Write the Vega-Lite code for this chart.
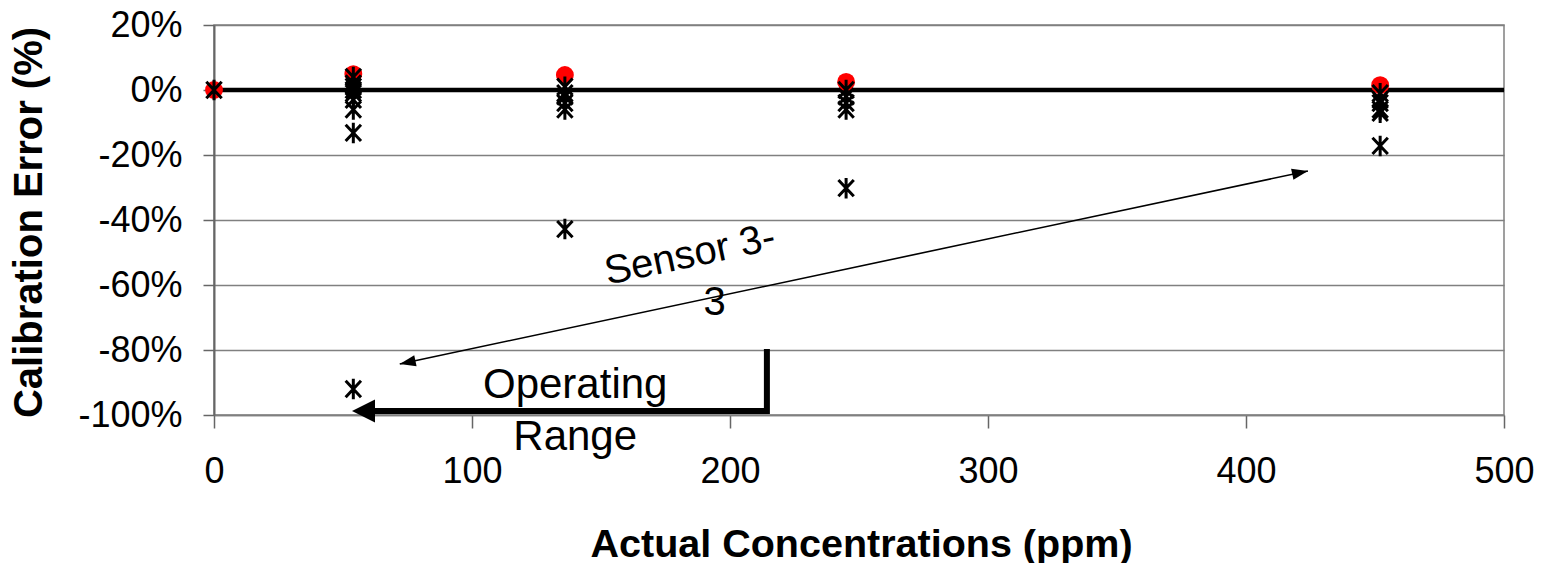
{
  "$schema": "https://vega.github.io/schema/vega-lite/v6.json",
  "width": 1290,
  "height": 390,
  "autosize": {"type": "none"},
  "padding": {"left": 214, "top": 25, "right": 48, "bottom": 148},
  "background": "white",
  "config": {
    "font": "Liberation Sans",
    "view": {"stroke": "#808080", "strokeWidth": 1.5}
  },
  "datasets": {
    "zero": [{"y": 0}],
    "red": [
      {"x": 0, "y": 0},
      {"x": 54, "y": 0.049},
      {"x": 136, "y": 0.046},
      {"x": 245, "y": 0.025},
      {"x": 452, "y": 0.015}
    ],
    "sensors": [
      {"x": 0, "y": 0},
      {"x": 54, "y": 0.04}, {"x": 54, "y": 0.02}, {"x": 54, "y": 0.01}, {"x": 54, "y": 0.0},
      {"x": 54, "y": -0.01}, {"x": 54, "y": -0.03}, {"x": 54, "y": -0.06}, {"x": 54, "y": -0.132},
      {"x": 54, "y": -0.92},
      {"x": 136, "y": 0.01}, {"x": 136, "y": -0.01}, {"x": 136, "y": -0.02}, {"x": 136, "y": -0.04},
      {"x": 136, "y": -0.06}, {"x": 136, "y": -0.428},
      {"x": 245, "y": 0.0}, {"x": 245, "y": -0.02}, {"x": 245, "y": -0.04}, {"x": 245, "y": -0.06},
      {"x": 245, "y": -0.302},
      {"x": 452, "y": -0.01}, {"x": 452, "y": -0.03}, {"x": 452, "y": -0.04}, {"x": 452, "y": -0.06},
      {"x": 452, "y": -0.07}, {"x": 452, "y": -0.172}
    ],
    "sensorArrow": [{"x": 72, "y": -0.843}, {"x": 424, "y": -0.249}],
    "sensorHeadRight": [{"x": 424, "y": -0.249}],
    "sensorHeadLeft": [{"x": 72, "y": -0.843}],
    "opLine": [
      {"x": 214.3, "y": -0.797, "o": 0},
      {"x": 214.3, "y": -0.988, "o": 1},
      {"x": 60, "y": -0.988, "o": 2}
    ],
    "opHead": [{"x": 53.5, "y": -0.988}],
    "sensorText": [{"x": 184.5, "y": -0.508, "label": "Sensor 3-"}],
    "numText": [{"x": 194, "y": -0.655, "label": "3"}],
    "opText": [
      {"x": 140, "y": -0.908, "label": "Operating"},
      {"x": 140, "y": -1.068, "label": "Range"}
    ]
  },
  "encoding": {
    "x": {
      "field": "x",
      "type": "quantitative",
      "scale": {"domain": [0, 500], "nice": false, "zero": false},
      "axis": {
        "values": [0, 100, 200, 300, 400, 500],
        "grid": false,
        "labelFlush": false,
        "labelOverlap": false,
        "domainColor": "#808080",
        "domainWidth": 1.5,
        "tickColor": "#666666",
        "tickWidth": 1.5,
        "tickSize": 13,
        "labelFontSize": 36,
        "labelColor": "black",
        "labelBaseline": "middle",
        "labelPadding": 43,
        "title": "Actual Concentrations (ppm)",
        "titleFontSize": 39.5,
        "titleFontWeight": "bold",
        "titleColor": "black",
        "titleX": 647,
        "titleY": 129,
        "titleBaseline": "middle",
        "titleAnchor": "middle"
      }
    },
    "y": {
      "field": "y",
      "type": "quantitative",
      "scale": {"domain": [-1, 0.2], "nice": false, "zero": false},
      "axis": {
        "values": [-1, -0.8, -0.6, -0.4, -0.2, 0, 0.2],
        "labelExpr": "round(datum.value*100) + '%'",
        "grid": true,
        "gridColor": "#808080",
        "gridWidth": 1.5,
        "gridOpacity": 1,
        "domainColor": "#666666",
        "domainWidth": 2,
        "tickColor": "#666666",
        "tickWidth": 1.5,
        "tickSize": 11,
        "labelFontSize": 36,
        "labelColor": "black",
        "labelPadding": 21,
        "title": "Calibration Error (%)",
        "titleFontSize": 40,
        "titleFontWeight": "bold",
        "titleColor": "black",
        "titleAngle": -90,
        "titleX": -185,
        "titleY": 197,
        "titleBaseline": "middle",
        "titleAnchor": "middle"
      }
    }
  },
  "layer": [
    {
      "data": {"name": "zero"},
      "mark": {"type": "rule", "color": "black", "strokeWidth": 4.5},
      "encoding": {"x": null}
    },
    {
      "data": {"name": "red"},
      "mark": {"type": "point", "shape": "circle", "filled": true, "color": "#ff0000", "size": 320, "opacity": 1}
    },
    {
      "data": {"name": "sensors"},
      "mark": {
        "type": "point",
        "shape": "M -0.75 -0.8 L 0.75 0.8 M -0.75 0.8 L 0.75 -0.8 M 0 -1 L 0 1",
        "filled": false,
        "stroke": "black",
        "strokeWidth": 3,
        "size": 420,
        "opacity": 1
      }
    },
    {
      "data": {"name": "sensorArrow"},
      "mark": {"type": "line", "color": "black", "strokeWidth": 1.6}
    },
    {
      "data": {"name": "sensorHeadRight"},
      "mark": {"type": "point", "shape": "M 0 0 L -2 -0.7 L -2 0.7 Z", "filled": true, "color": "black", "size": 256, "angle": -12, "opacity": 1}
    },
    {
      "data": {"name": "sensorHeadLeft"},
      "mark": {"type": "point", "shape": "M 0 0 L -2 -0.7 L -2 0.7 Z", "filled": true, "color": "black", "size": 256, "angle": 168, "opacity": 1}
    },
    {
      "data": {"name": "opLine"},
      "mark": {"type": "line", "color": "black", "strokeWidth": 6, "strokeJoin": "miter", "strokeCap": "butt"},
      "encoding": {"order": {"field": "o", "type": "quantitative"}}
    },
    {
      "data": {"name": "opHead"},
      "mark": {"type": "point", "shape": "M 0 0 L -2 -1 L -2 1 Z", "filled": true, "color": "black", "size": 529, "angle": 180, "opacity": 1}
    },
    {
      "data": {"name": "sensorText"},
      "mark": {"type": "text", "fontSize": 40, "color": "black", "angle": -12, "align": "center", "baseline": "middle"},
      "encoding": {"text": {"field": "label"}}
    },
    {
      "data": {"name": "numText"},
      "mark": {"type": "text", "fontSize": 40, "color": "black", "align": "center", "baseline": "middle"},
      "encoding": {"text": {"field": "label"}}
    },
    {
      "data": {"name": "opText"},
      "mark": {"type": "text", "fontSize": 42, "color": "black", "align": "center", "baseline": "middle"},
      "encoding": {"text": {"field": "label"}}
    }
  ]
}
